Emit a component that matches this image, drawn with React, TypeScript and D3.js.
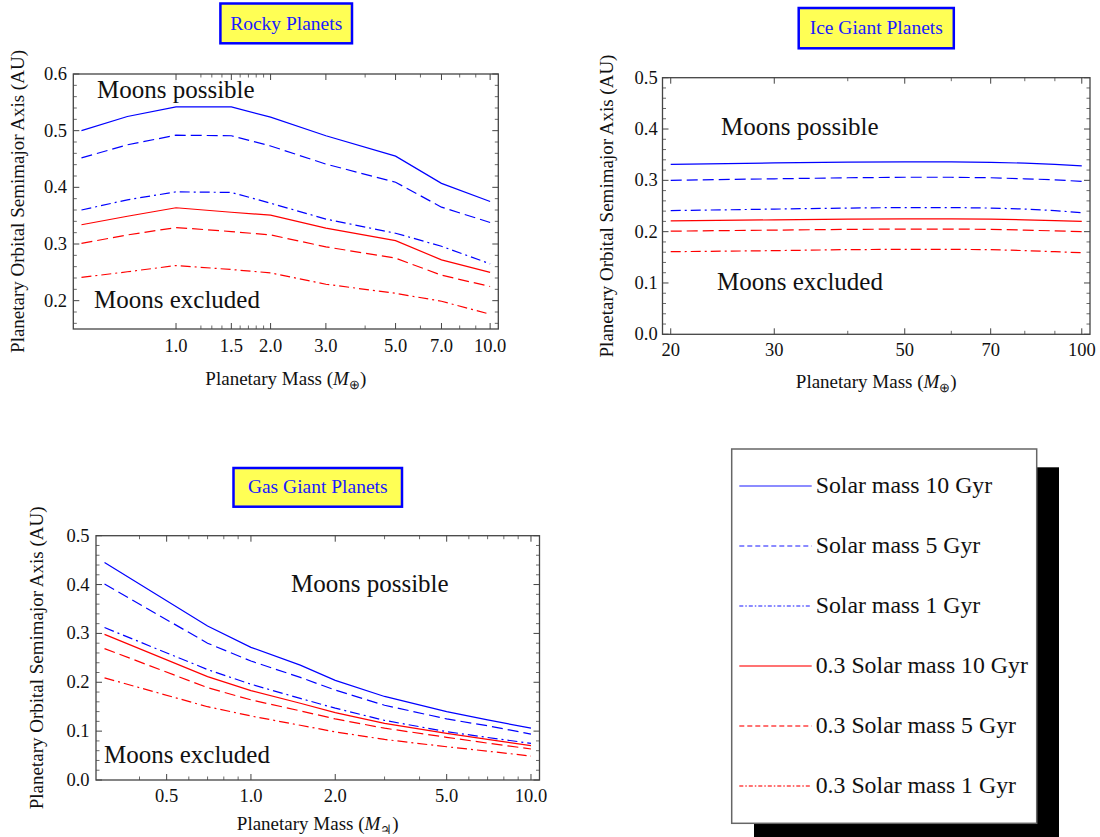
import React from 'react';
import * as d3 from 'd3';

const FONT = '"Liberation Serif", "Times New Roman", Times, serif';
const BLUE = '#0000ff';
const RED = '#ff0000';

// ---------- Rocky planets ----------
const rockyMass = [0.5, 0.7, 1.0, 1.5, 2.0, 3.0, 5.0, 7.0, 10.0];
const rockySun10 = [0.500, 0.525, 0.542, 0.542, 0.524, 0.491, 0.455, 0.407, 0.375];
const rockySun5 = [0.452, 0.475, 0.492, 0.491, 0.473, 0.441, 0.409, 0.365, 0.338];
const rockySun1 = [0.360, 0.378, 0.392, 0.391, 0.372, 0.344, 0.319, 0.296, 0.265];
const rockyM03_10 = [0.334, 0.349, 0.364, 0.356, 0.351, 0.328, 0.306, 0.272, 0.250];
const rockyM03_5 = [0.301, 0.316, 0.329, 0.322, 0.316, 0.295, 0.275, 0.245, 0.225];
const rockyM03_1 = [0.241, 0.251, 0.262, 0.255, 0.249, 0.229, 0.213, 0.199, 0.176];
const rockyXTicks = [1.0, 1.5, 2.0, 3.0, 5.0, 7.0, 10.0];
const rockyXMinor = [1.2, 1.3, 1.4, 1.6, 1.7, 1.8, 1.9, 4, 6, 8, 9];
const rockyYTicks = [0.2, 0.3, 0.4, 0.5, 0.6];

// ---------- Ice giant planets ----------
const iceMass = [20, 30, 40, 50, 60, 70, 80, 90, 100];
const iceSun10 = [0.331, 0.334, 0.3355, 0.336, 0.336, 0.335, 0.3335, 0.331, 0.328];
const iceSun5 = [0.300, 0.303, 0.305, 0.306, 0.306, 0.305, 0.303, 0.301, 0.298];
const iceSun1 = [0.241, 0.244, 0.246, 0.247, 0.247, 0.246, 0.244, 0.241, 0.237];
const iceM03_10 = [0.221, 0.223, 0.2245, 0.225, 0.225, 0.2245, 0.223, 0.2215, 0.220];
const iceM03_5 = [0.201, 0.203, 0.2045, 0.205, 0.205, 0.2045, 0.203, 0.2015, 0.200];
const iceM03_1 = [0.161, 0.163, 0.165, 0.1655, 0.1655, 0.165, 0.163, 0.161, 0.159];
const iceXTicks = [20, 30, 50, 70, 100];
const iceXMinor = [40, 60, 80, 90];
const iceYTicks = [0.0, 0.1, 0.2, 0.3, 0.4, 0.5];

// ---------- Gas giant planets ----------
const gasMass = [0.3, 0.7, 1.0, 1.5, 2.0, 3.0, 5.0, 7.0, 10.0];
const gasSun10 = [0.445, 0.315, 0.2715, 0.235, 0.204, 0.171, 0.140, 0.123, 0.106];
const gasSun5 = [0.401, 0.280, 0.2435, 0.210, 0.184, 0.153, 0.125, 0.111, 0.094];
const gasSun1 = [0.312, 0.226, 0.196, 0.167, 0.147, 0.122, 0.099, 0.087, 0.075];
const gasM03_10 = [0.298, 0.2115, 0.183, 0.157, 0.138, 0.116, 0.0956, 0.0833, 0.0703];
const gasM03_5 = [0.269, 0.189, 0.164, 0.1415, 0.125, 0.106, 0.0874, 0.0755, 0.0635];
const gasM03_1 = [0.209, 0.150, 0.131, 0.112, 0.0985, 0.083, 0.068, 0.059, 0.049];
const gasXTicks = [0.5, 1.0, 2.0, 5.0, 10.0];
const gasXMinor = [0.4, 0.6, 0.7, 0.8, 0.9, 3, 4, 6, 7, 8, 9];
const gasYTicks = [0.0, 0.1, 0.2, 0.3, 0.4, 0.5];

// ---------- Legend ----------
const legendLabels = [
  'Solar mass 10 Gyr',
  'Solar mass 5 Gyr',
  'Solar mass 1 Gyr',
  '0.3 Solar mass 10 Gyr',
  '0.3 Solar mass 5 Gyr',
  '0.3 Solar mass 1 Gyr',
];

const DASH = '11,5';
const DOTDASH = '10,4,2,4';
const seriesStyles = [
  { color: BLUE, dash: undefined as string | undefined },
  { color: BLUE, dash: DASH },
  { color: BLUE, dash: DOTDASH },
  { color: RED, dash: undefined as string | undefined },
  { color: RED, dash: DASH },
  { color: RED, dash: DOTDASH },
];
const legendStyles = [
  { color: '#6666ff', dash: undefined as string | undefined },
  { color: '#6666ff', dash: '5,3' },
  { color: '#6666ff', dash: '4,2,1.5,2' },
  { color: '#ff4444', dash: undefined as string | undefined },
  { color: '#ff4444', dash: '5,3' },
  { color: '#ff4444', dash: '4,2,1.5,2' },
];

type PanelCfg = {
  title: string;
  frame: { x0: number; x1: number; y0: number; y1: number };
  xs: number[];
  series: number[][];
  yDomain: [number, number];
  xTicks: number[];
  xMinor: number[];
  xFmt: (v: number) => string;
  yTicks: number[];
  titleBox: { x0: number; x1: number; y0: number; y1: number; base: number };
  possible: [number, number];
  excluded: [number, number];
  yLabelX: number;
  yTickRight: number;
  xTickBase: number;
  xLabelBase: number;
  massSymbol: string;
};

function padLog(xs: number[]): [number, number] {
  const lo = Math.log10(d3.min(xs) as number);
  const hi = Math.log10(d3.max(xs) as number);
  const p = 0.02 * (hi - lo);
  return [Math.pow(10, lo - p), Math.pow(10, hi + p)];
}

function Panel({ cfg }: { cfg: PanelCfg }) {
  const { frame } = cfg;
  const x = d3.scaleLog().domain(padLog(cfg.xs)).range([frame.x0, frame.x1]);
  const y = d3.scaleLinear().domain(cfg.yDomain).range([frame.y1, frame.y0]);
  const line = d3
    .line<number>()
    .x((_, i) => x(cfg.xs[i]))
    .y((d) => y(d));

  const yMinor: number[] = [];
  for (let v = Math.ceil(cfg.yDomain[0] / 0.02 - 1e-6) * 0.02; v <= cfg.yDomain[1] + 1e-9; v += 0.02) {
    const r = Math.round(v * 100) / 100;
    if (!cfg.yTicks.some((t) => Math.abs(t - r) < 1e-6)) yMinor.push(r);
  }
  const tickColor = '#444';
  const MAJ = 6;
  const MIN = 3.5;
  const cx = (frame.x0 + frame.x1) / 2;
  const cy = (frame.y0 + frame.y1) / 2;
  const tb = cfg.titleBox;

  return (
    <g>
      {/* title box */}
      <rect x={tb.x0} y={tb.y0} width={tb.x1 - tb.x0} height={tb.y1 - tb.y0} fill="#ffff55" stroke="#0000ff" strokeWidth={2.5} />
      <text x={(tb.x0 + tb.x1) / 2} y={tb.base} textAnchor="middle" fontFamily={FONT} fontSize={19.5} fill="#1a1aff">
        {cfg.title}
      </text>

      {/* series */}
      {cfg.series.map((vals, i) => (
        <path
          key={i}
          d={line(vals) as string}
          fill="none"
          stroke={seriesStyles[i].color}
          strokeWidth={1.2}
          strokeDasharray={seriesStyles[i].dash}
        />
      ))}

      {/* frame */}
      <rect x={frame.x0} y={frame.y0} width={frame.x1 - frame.x0} height={frame.y1 - frame.y0} fill="none" stroke={tickColor} strokeWidth={1.3} />

      {/* y ticks */}
      {cfg.yTicks.map((t) => (
        <g key={'y' + t}>
          <line x1={frame.x0} x2={frame.x0 + MAJ} y1={y(t)} y2={y(t)} stroke={tickColor} strokeWidth={1} />
          <line x1={frame.x1} x2={frame.x1 - MAJ} y1={y(t)} y2={y(t)} stroke={tickColor} strokeWidth={1} />
          <text x={cfg.yTickRight} y={y(t) + 6} textAnchor="end" fontFamily={FONT} fontSize={18.5} fill="#111">
            {t.toFixed(1)}
          </text>
        </g>
      ))}
      {yMinor.map((t) => (
        <g key={'ym' + t}>
          <line x1={frame.x0} x2={frame.x0 + MIN} y1={y(t)} y2={y(t)} stroke={tickColor} strokeWidth={0.8} />
          <line x1={frame.x1} x2={frame.x1 - MIN} y1={y(t)} y2={y(t)} stroke={tickColor} strokeWidth={0.8} />
        </g>
      ))}

      {/* x ticks */}
      {cfg.xTicks.map((t) => (
        <g key={'x' + t}>
          <line x1={x(t)} x2={x(t)} y1={frame.y1} y2={frame.y1 - MAJ} stroke={tickColor} strokeWidth={1} />
          <line x1={x(t)} x2={x(t)} y1={frame.y0} y2={frame.y0 + MAJ} stroke={tickColor} strokeWidth={1} />
          <text x={x(t)} y={cfg.xTickBase} textAnchor="middle" fontFamily={FONT} fontSize={18.5} fill="#111">
            {cfg.xFmt(t)}
          </text>
        </g>
      ))}
      {cfg.xMinor.map((t) => (
        <g key={'xm' + t}>
          <line x1={x(t)} x2={x(t)} y1={frame.y1} y2={frame.y1 - MIN} stroke={tickColor} strokeWidth={0.8} />
          <line x1={x(t)} x2={x(t)} y1={frame.y0} y2={frame.y0 + MIN} stroke={tickColor} strokeWidth={0.8} />
        </g>
      ))}

      {/* region labels */}
      <text x={cfg.possible[0]} y={cfg.possible[1]} fontFamily={FONT} fontSize={25} fill="#111">
        Moons possible
      </text>
      <text x={cfg.excluded[0]} y={cfg.excluded[1]} fontFamily={FONT} fontSize={25} fill="#111">
        Moons excluded
      </text>

      {/* axis labels */}
      <text
        x={cfg.yLabelX + 6.5}
        y={cy}
        textAnchor="middle"
        fontFamily={FONT}
        fontSize={19}
        fill="#111"
        transform={`rotate(-90, ${cfg.yLabelX + 6.5}, ${cy})`}
      >
        Planetary Orbital Semimajor Axis (AU)
      </text>
      <text x={cx} y={cfg.xLabelBase} textAnchor="middle" fontFamily={FONT} fontSize={19} fill="#111">
        <tspan>Planetary Mass (</tspan>
        <tspan fontStyle="italic">M</tspan>
        <tspan dy={4} fontSize={13}>{cfg.massSymbol}</tspan>
        <tspan dy={-4}>)</tspan>
      </text>
    </g>
  );
}

const rockyCfg: PanelCfg = {
  title: 'Rocky Planets',
  frame: { x0: 73.3, x1: 498.3, y0: 74, y1: 329 },
  xs: rockyMass,
  series: [rockySun10, rockySun5, rockySun1, rockyM03_10, rockyM03_5, rockyM03_1],
  yDomain: [0.15, 0.6],
  xTicks: rockyXTicks,
  xMinor: rockyXMinor,
  xFmt: (v) => v.toFixed(1),
  yTicks: rockyYTicks,
  titleBox: { x0: 220.4, x1: 352, y0: 3.5, y1: 43.3, base: 30 },
  possible: [97, 98.3],
  excluded: [94, 308.3],
  yLabelX: 17.9,
  yTickRight: 67,
  xTickBase: 352,
  xLabelBase: 385,
  massSymbol: '\u2295',
};

const iceCfg: PanelCfg = {
  title: 'Ice Giant Planets',
  frame: { x0: 662.5, x1: 1090, y0: 77.7, y1: 334.3 },
  xs: iceMass,
  series: [iceSun10, iceSun5, iceSun1, iceM03_10, iceM03_5, iceM03_1],
  yDomain: [0, 0.5],
  xTicks: iceXTicks,
  xMinor: iceXMinor,
  xFmt: (v) => String(v),
  yTicks: iceYTicks,
  titleBox: { x0: 798.7, x1: 953.8, y0: 8, y1: 48.3, base: 34.3 },
  possible: [721, 135],
  excluded: [717, 290],
  yLabelX: 606.6,
  yTickRight: 657.7,
  xTickBase: 356,
  xLabelBase: 388,
  massSymbol: '\u2295',
};

const gasCfg: PanelCfg = {
  title: 'Gas Giant Planets',
  frame: { x0: 96, x1: 539.5, y0: 535.7, y1: 780 },
  xs: gasMass,
  series: [gasSun10, gasSun5, gasSun1, gasM03_10, gasM03_5, gasM03_1],
  yDomain: [0, 0.5],
  xTicks: gasXTicks,
  xMinor: gasXMinor,
  xFmt: (v) => v.toFixed(1),
  yTicks: gasYTicks,
  titleBox: { x0: 233.5, x1: 402, y0: 468, y1: 506.7, base: 493.3 },
  possible: [291, 591.7],
  excluded: [104, 763.3],
  yLabelX: 37,
  yTickRight: 89.6,
  xTickBase: 801.7,
  xLabelBase: 830,
  massSymbol: '\u2643',
};

function Legend() {
  const box = { x: 731.7, y: 449, w: 305, h: 374.3 };
  const rowY = d3.scaleLinear().domain([0, 1]).range([486, 546]);
  return (
    <g>
      <rect x={box.x + 22.3} y={box.y + 18.3} width={box.w} height={box.h} fill="#000" />
      <rect x={box.x} y={box.y} width={box.w} height={box.h} fill="#fff" stroke="#666" strokeWidth={1.5} />
      {legendLabels.map((lab, i) => (
        <g key={lab}>
          <line
            x1={739.3}
            x2={811.7}
            y1={rowY(i)}
            y2={rowY(i)}
            stroke={legendStyles[i].color}
            strokeWidth={1.3}
            strokeDasharray={legendStyles[i].dash}
          />
          <text x={815.7} y={rowY(i) + 7} fontFamily={FONT} fontSize={23.8} fill="#111">
            {lab}
          </text>
        </g>
      ))}
    </g>
  );
}

export default function App() {
  return (
    <svg
      width={1100}
      height={837}
      style={{ position: 'absolute', left: 0, top: 0, display: 'block', background: '#fff' }}
    >
      <rect x={0} y={0} width={1100} height={837} fill="#fff" />
      <Panel cfg={rockyCfg} />
      <Panel cfg={iceCfg} />
      <Panel cfg={gasCfg} />
      <Legend />
    </svg>
  );
}
